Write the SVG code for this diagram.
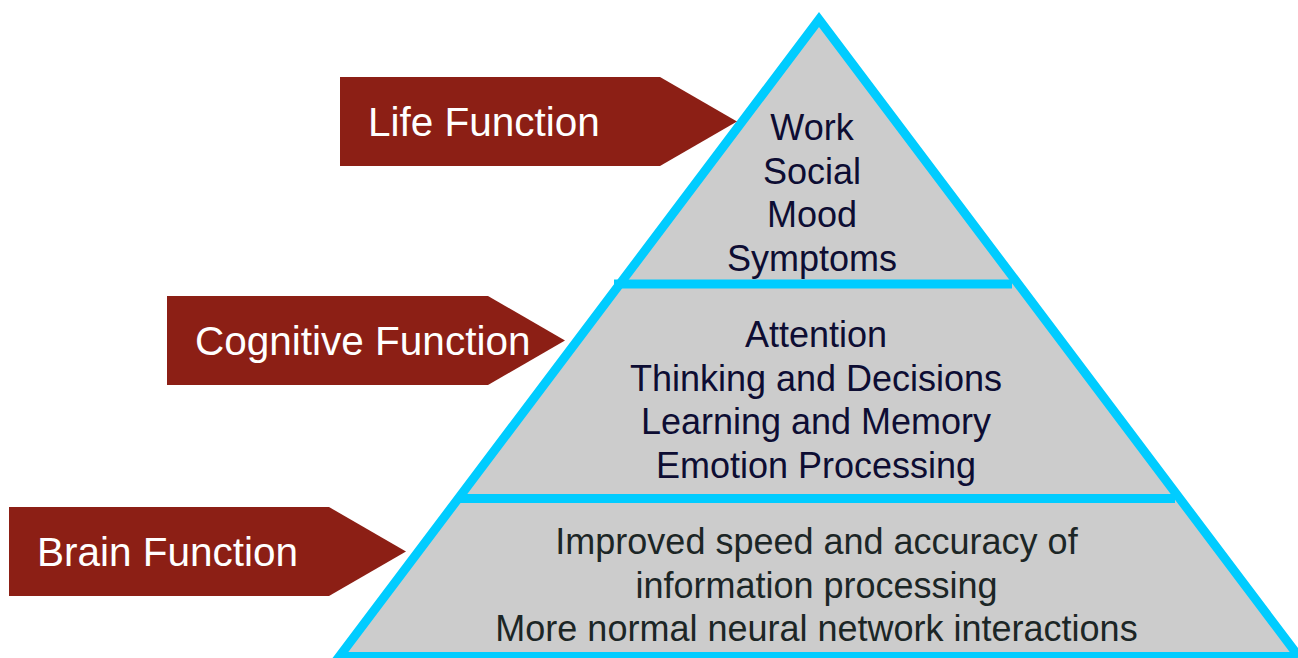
<svg xmlns="http://www.w3.org/2000/svg" width="1298" height="658" viewBox="0 0 1298 658">
  <style>
    .tier { fill: #cccccc; stroke: none; }
    .outline { fill: none; stroke: #00ccff; stroke-width: 9; stroke-linejoin: miter; stroke-miterlimit: 10; }
    .divider { stroke: #00ccff; stroke-width: 9; stroke-linecap: butt; }
    .label { fill: #8c1f15; }
    .labeltext { font-family: "Liberation Sans", Arial, sans-serif; font-size: 40.5px; fill: #ffffff; }
    .tiertext { font-family: "Liberation Sans", Arial, sans-serif; font-size: 36px; fill: #0d0d33; text-anchor: middle; }
    .basetext { font-family: "Liberation Sans", Arial, sans-serif; font-size: 36px; fill: #1c2626; text-anchor: middle; }
  </style>
  <rect width="1298" height="658" fill="#ffffff"/>

  <g id="tier-life">
    <polygon class="tier" points="819,19.5 1018.2,284 619.8,284"/>
    <text class="tiertext" x="812" y="140">Work</text>
    <text class="tiertext" x="812" y="183.5">Social</text>
    <text class="tiertext" x="812" y="227">Mood</text>
    <text class="tiertext" x="812" y="270.5">Symptoms</text>
  </g>

  <g id="tier-cognitive">
    <polygon class="tier" points="619.8,284 1018.2,284 1179.7,498.5 458.3,498.5"/>
    <text class="tiertext" x="816" y="347">Attention</text>
    <text class="tiertext" x="816" y="390.5">Thinking and Decisions</text>
    <text class="tiertext" x="816" y="434">Learning and Memory</text>
    <text class="tiertext" x="816" y="477.5">Emotion Processing</text>
  </g>

  <g id="tier-brain">
    <polygon class="tier" points="458.3,498.5 1179.7,498.5 1298.7,656.5 339.3,656.5"/>
    <text class="basetext" x="816.5" y="554">Improved speed and accuracy of</text>
    <text class="basetext" x="816.5" y="597.5">information processing</text>
    <text class="basetext" x="816.5" y="641">More normal neural network interactions</text>
  </g>

  <g id="pyramid-outline">
    <polygon class="outline" points="819,19.5 1298.7,656.5 339.3,656.5"/>
    <line class="divider" x1="614" y1="284" x2="1012" y2="284"/>
    <line class="divider" x1="460" y1="498.5" x2="1175" y2="498.5"/>
  </g>

  <g id="label-life">
    <polygon class="label" points="340,77 660,77 737,121.5 660,166 340,166"/>
    <text class="labeltext" x="368" y="136">Life Function</text>
  </g>

  <g id="label-cognitive">
    <polygon class="label" points="167,296 488,296 565,340.5 488,385 167,385"/>
    <text class="labeltext" x="195" y="355">Cognitive Function</text>
  </g>

  <g id="label-brain">
    <polygon class="label" points="9,507 329,507 406,551.5 329,596 9,596"/>
    <text class="labeltext" x="37" y="566">Brain Function</text>
  </g>

  <g id="connectors"></g>
</svg>
